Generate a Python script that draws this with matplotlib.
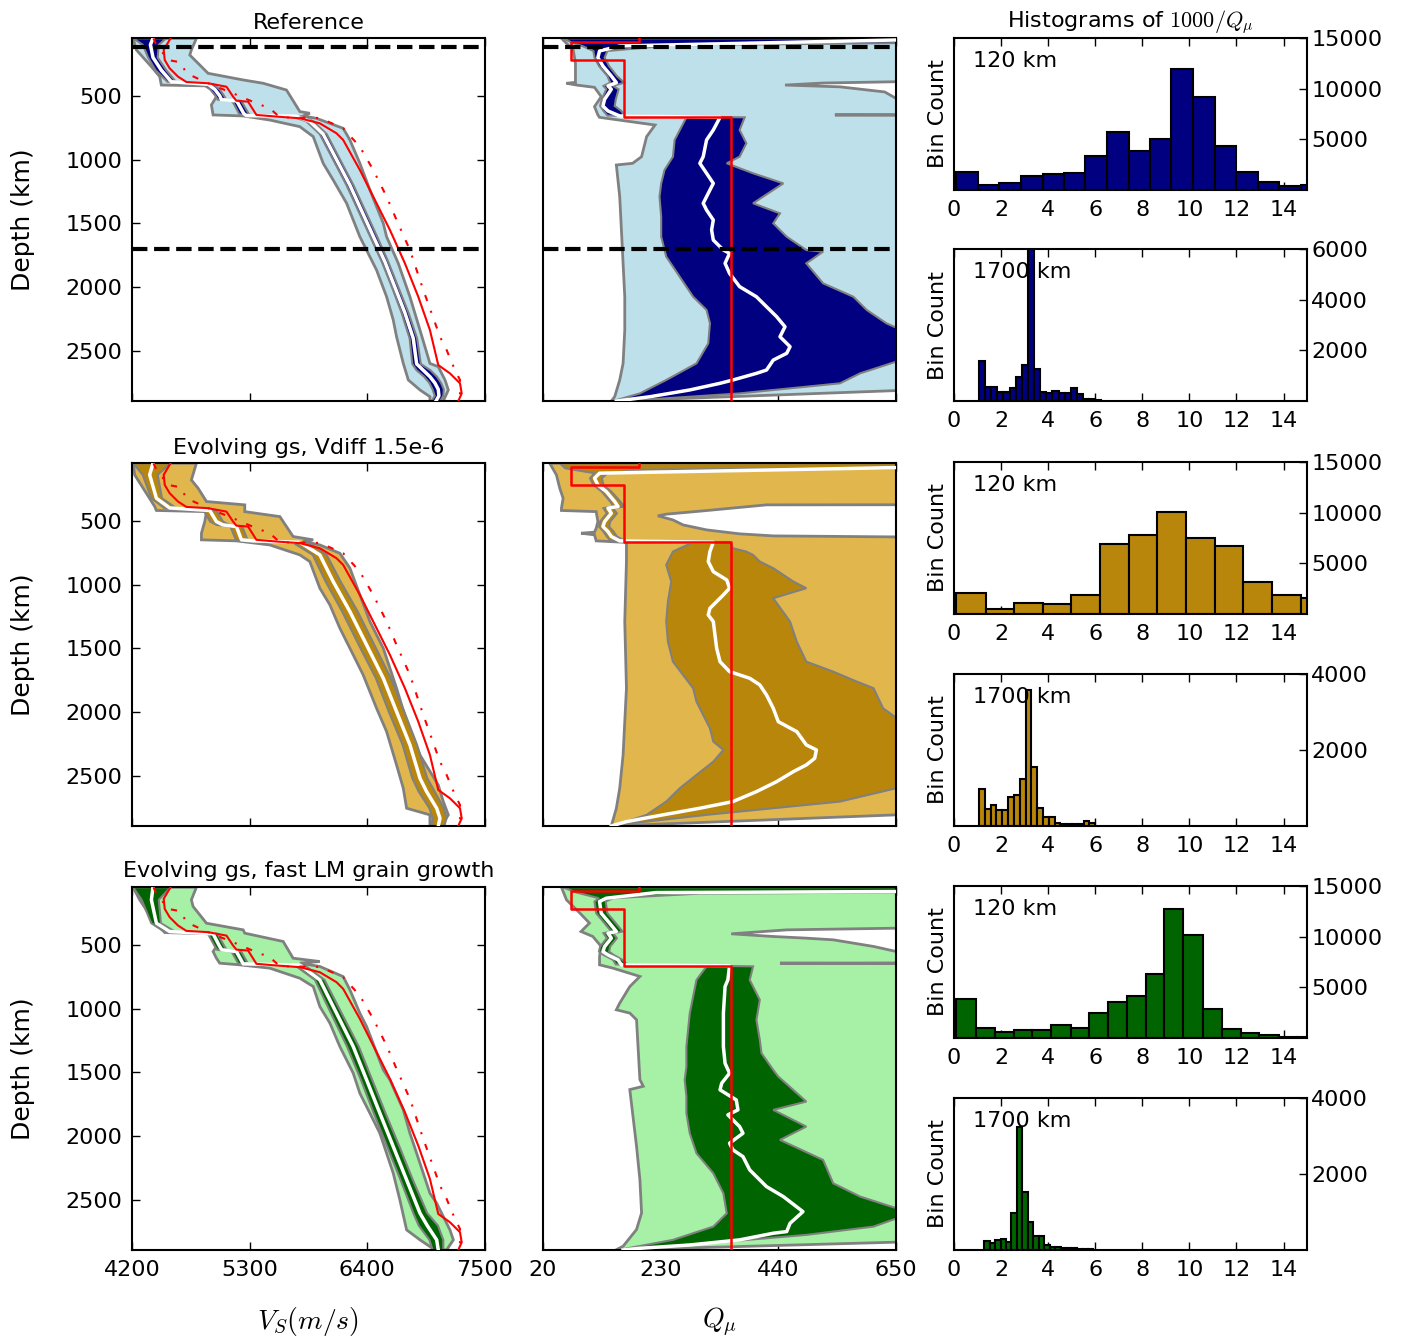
import numpy as np
import matplotlib
matplotlib.use("Agg")
import matplotlib.pyplot as plt

plt.rcParams.update({
    "font.family": ["DejaVu Sans"],
    "font.size": 16,
    "mathtext.fontset": "cm",
    "axes.linewidth": 1.5,
})

# ---------------- colours ----------------
LIGHT = ["#BDE0EB", "#E1B74D", "#A6F1A6"]
DARK = ["#000080", "#B8860B", "#006400"]
TITLES = ["Reference", "Evolving gs, Vdiff 1.5e-6", "Evolving gs, fast LM grain growth"]

# ---------------- observed reference models (red) ----------------
REF_VS_D = [50, 141, 220, 285, 350, 392, 402, 429, 507, 539, 546, 650, 663, 676, 716, 794, 846,
            1081, 1290, 1551, 1812, 2074, 2335, 2609, 2674, 2752, 2831, 2891]
REF_VS = [4560, 4496, 4506, 4552, 4630, 4708, 4911, 5083, 5145, 5176, 5285, 5363, 5550, 5769, 5956,
          6112, 6174, 6330, 6455, 6611, 6751, 6876, 6985, 7063, 7172, 7266, 7282, 7250]
REF2_VS_D = [50, 89, 220, 238, 324, 402, 481, 559, 598, 669, 674, 755, 899, 1081, 1290, 1473, 1708,
             2021, 2387, 2491, 2648, 2726, 2883]
REF2_VS = [4400, 4421, 4537, 4655, 4708, 4911, 5145, 5363, 5488, 5582, 5956, 6174, 6330, 6455, 6580,
           6673, 6798, 6923, 7079, 7141, 7219, 7266, 7266]
QL6_D = [0, 80, 80, 220, 220, 670, 670, 2891]
QL6_Q = [191, 191, 70, 70, 165, 165, 355, 355]

# ---------------- Vs, row 1 (Reference) ----------------
VS1_OLO_D = [50, 141, 272, 350, 416, 423, 507, 572, 650, 658, 690, 742, 820, 1029, 1160, 1342, 1604,
             1865, 2074, 2256, 2387, 2596, 2726, 2804, 2857, 2891]
VS1_OLO = [4209, 4241, 4381, 4459, 4474, 4927, 4989, 4942, 4958, 5239, 5488, 5769, 5894, 5987, 6081,
           6206, 6330, 6486, 6580, 6642, 6673, 6736, 6783, 6892, 6985, 6985]
VS1_OHI_D = [50, 141, 181, 246, 324, 376, 402, 455, 624, 637, 658, 677, 755, 846, 1029, 1238, 1499,
             1604, 1812, 2074, 2335, 2596, 2622, 2726, 2804, 2891]
VS1_OHI = [4802, 4755, 4740, 4818, 4911, 5239, 5426, 5644, 5769, 5862, 5800, 5925, 6174, 6237, 6330,
           6424, 6549, 6580, 6689, 6798, 6892, 6985, 7063, 7126, 7157, 7110]
VS1_D = [50, 100, 200, 300, 390, 410, 450, 500, 530, 540, 560, 640, 655, 660, 700, 800, 1000, 1200,
         1400, 1600, 1800, 2000, 2200, 2400, 2600, 2650, 2700, 2750, 2800, 2850, 2891]
VS1_MED = [4396, 4372, 4396, 4474, 4568, 4911, 4974, 5020, 5036, 5176, 5192, 5245, 5270, 5738, 5862,
           5987, 6112, 6237, 6346, 6455, 6564, 6658, 6751, 6829, 6861, 6923, 6985, 7032, 7063, 7069, 7041]
VS1_ILO = [4210, 4300, 4350, 4420, 4530, 4860, 4930, 4980, 5000, 5130, 5150, 5200, 5230, 5690, 5830,
           5955, 6080, 6205, 6315, 6425, 6535, 6630, 6720, 6795, 6820, 6860, 6930, 6980, 7010, 7030, 7000]
VS1_IHI = [4520, 4450, 4440, 4520, 4610, 4960, 5020, 5060, 5080, 5220, 5235, 5290, 5310, 5790, 5895,
           6020, 6145, 6270, 6380, 6490, 6595, 6690, 6785, 6865, 6900, 6990, 7050, 7090, 7115, 7110, 7080]

# ---------------- Vs, row 2 ----------------
VS2_OLO_D = [50, 141, 389, 420, 429, 507, 598, 650, 658, 690, 768, 820, 1029, 1160, 1342, 1551, 1708,
             1969, 2152, 2413, 2596, 2752, 2804, 2891]
VS2_OLO = [4209, 4225, 4412, 4428, 4896, 4880, 4849, 4849, 5176, 5488, 5769, 5862, 5956, 6050, 6143,
           6268, 6361, 6486, 6580, 6673, 6736, 6767, 6985, 6985]
VS2_OHI_D = [50, 181, 246, 350, 376, 429, 468, 624, 650, 662, 690, 755, 872, 1081, 1290, 1499, 1812,
             2074, 2335, 2570, 2700, 2804, 2891]
VS2_OHI = [4802, 4755, 4818, 4896, 5254, 5254, 5582, 5706, 5894, 5800, 5956, 6143, 6237, 6330, 6424,
           6549, 6673, 6767, 6892, 7063, 7110, 7157, 7094]
VS2_D = [50, 141, 324, 400, 420, 507, 533, 546, 650, 658, 669, 768, 977, 1212, 1473, 1734, 1995, 2256,
         2517, 2622, 2752, 2831, 2891]
VS2_MED = [4396, 4365, 4428, 4552, 4927, 4989, 5051, 5176, 5223, 5332, 5769, 5956, 6081, 6237, 6393,
           6549, 6673, 6798, 6892, 6954, 7048, 7079, 7063]
VS2_ILO = [4210, 4300, 4380, 4500, 4870, 4930, 4990, 5120, 5170, 5280, 5700, 5890, 6010, 6165, 6320,
           6480, 6600, 6730, 6820, 6880, 6980, 7010, 7000]
VS2_IHI = [4560, 4440, 4480, 4610, 4990, 5050, 5110, 5230, 5280, 5390, 5840, 6020, 6150, 6310, 6465,
           6620, 6745, 6865, 6960, 7030, 7115, 7140, 7120]

# ---------------- Vs, row 3 ----------------
VS3_OLO_D = [50, 149, 306, 405, 415, 515, 554, 606, 645, 658, 684, 763, 828, 985, 1115, 1298, 1507,
             1664, 1820, 1977, 2134, 2290, 2499, 2734, 2812, 2891]
VS3_OLO = [4209, 4272, 4396, 4506, 4927, 4989, 4958, 4989, 5020, 5207, 5488, 5769, 5894, 5956, 6050,
           6143, 6268, 6330, 6424, 6517, 6580, 6642, 6704, 6767, 6892, 7032]
VS3_OHI_D = [50, 149, 201, 332, 384, 410, 475, 606, 632, 645, 671, 750, 854, 1037, 1141, 1481, 1559,
             1794, 1977, 2134, 2447, 2525, 2734, 2812, 2891]
VS3_OHI = [4802, 4755, 4771, 4896, 5239, 5254, 5613, 5706, 5956, 5769, 5956, 6174, 6237, 6330, 6393,
           6549, 6611, 6736, 6798, 6861, 6985, 7048, 7172, 7204, 7141]
VS3_D = [50, 149, 332, 397, 415, 515, 540, 554, 650, 660, 776, 1037, 1298, 1559, 1820, 2081, 2342,
         2603, 2700, 2812, 2891]
VS3_MED = [4396, 4381, 4428, 4552, 4958, 5020, 5040, 5176, 5239, 5769, 5956, 6112, 6268, 6393, 6517,
           6642, 6767, 6892, 6960, 7048, 7063]
VS3_ILO = [4210, 4290, 4380, 4500, 4910, 4975, 4995, 5130, 5195, 5720, 5910, 6060, 6210, 6340, 6460,
           6585, 6710, 6830, 6880, 6980, 7010]
VS3_IHI = [4560, 4450, 4470, 4600, 5000, 5065, 5085, 5220, 5285, 5810, 6000, 6160, 6320, 6445, 6570,
           6700, 6825, 6960, 7060, 7110, 7110]

# ---------------- Q, row 1 ----------------
Q1_OLO_D = [50, 141, 246, 395, 402, 416, 434, 507, 585, 650, 669, 729, 820, 977, 1029, 1042, 1290,
            1551, 1812, 2074, 2335, 2596, 2726, 2857, 2891]
Q1_OLO = [53, 74, 78, 78, 62, 80, 112, 124, 112, 118, 121, 220, 205, 196, 180, 151, 157, 160, 163,
          166, 166, 163, 157, 148, 142]
Q1_OHI_D = [50, 385, 390, 400, 416, 430, 450, 470, 520, 528, 645, 650, 656, 2800, 2809, 2891]
Q1_OHI = [1000, 1000, 650, 520, 452, 550, 590, 630, 650, 1000, 1000, 541, 1000, 1000, 650, 142]
Q1_ILO_D = [50, 80, 110, 149, 201, 267, 345, 397, 423, 449, 528, 580, 619, 655, 669, 846, 977, 1081,
            1186, 1290, 1447, 1604, 1760, 1917, 2074, 2178, 2282, 2439, 2596, 2726, 2831, 2891]
Q1_ILO = [56, 70, 90, 110, 112, 120, 135, 140, 128, 133, 125, 122, 128, 135, 276, 255, 252, 237, 231,
          228, 231, 231, 240, 264, 288, 312, 318, 315, 294, 240, 193, 145]
Q1_IHI_D = [50, 85, 105, 149, 201, 267, 345, 397, 423, 449, 528, 580, 619, 655, 669, 768, 872, 977,
            1029, 1107, 1186, 1342, 1421, 1499, 1604, 1708, 1721, 1812, 1969, 2074, 2178, 2282, 2335,
            2491, 2540, 2674, 2752, 2831, 2883, 2891]
Q1_IHI = [1000, 700, 250, 135, 130, 138, 152, 165, 145, 155, 150, 148, 160, 165, 380, 371, 383, 371,
          348, 395, 449, 395, 443, 431, 455, 490, 520, 490, 520, 574, 598, 633, 660, 680, 680, 586, 550,
          371, 193, 150]
Q1_MED_D = [50, 63, 110, 149, 201, 267, 345, 397, 423, 449, 528, 580, 619, 658, 669, 768, 846, 977,
            1029, 1107, 1186, 1238, 1342, 1395, 1473, 1551, 1630, 1708, 1734, 1812, 1891, 1995, 2074,
            2152, 2230, 2309, 2387, 2465, 2517, 2570, 2648, 2674, 2726, 2752, 2804, 2857, 2891]
Q1_MED = [1000, 650, 157, 121, 118, 127, 142, 151, 136, 142, 130, 127, 136, 157, 336, 324, 312, 306,
          300, 312, 324, 318, 306, 312, 324, 321, 324, 342, 353, 345, 353, 371, 401, 419, 437, 452, 443,
          461, 455, 431, 419, 401, 359, 336, 282, 211, 151]

# ---------------- Q, row 2 ----------------
Q2_OLO_D = [50, 141, 246, 324, 402, 420, 429, 507, 559, 590, 598, 611, 658, 670, 820, 1290, 1812,
            2074, 2335, 2596, 2752, 2891]
Q2_OLO = [32, 44, 50, 56, 53, 53, 115, 118, 115, 112, 88, 112, 115, 169, 169, 166, 169, 166, 163,
          157, 151, 142]
Q2_OHI_D = [50, 374, 376, 423, 449, 462, 494, 533, 572, 603, 619, 627, 635, 2795, 2804, 2891]
Q2_OHI = [1000, 1000, 419, 306, 240, 225, 252, 270, 312, 371, 431, 650, 1000, 1000, 650, 142]
Q2_ILO_D = [50, 90, 128, 167, 220, 272, 350, 389, 402, 442, 507, 546, 585, 624, 655, 669, 742, 846,
            977, 1133, 1290, 1447, 1604, 1708, 1812, 1917, 2022, 2126, 2230, 2295, 2387, 2491, 2596,
            2700, 2804, 2891]
Q2_ILO = [50, 60, 112, 104, 110, 125, 140, 146, 128, 134, 122, 120, 128, 134, 140, 288, 252, 240, 249,
          243, 240, 243, 252, 270, 288, 294, 306, 318, 324, 342, 324, 294, 264, 240, 205, 145]
Q2_IHI_D = [50, 80, 100, 128, 167, 220, 272, 350, 389, 402, 442, 507, 546, 585, 624, 655, 669, 716,
            742, 768, 820, 872, 977, 1029, 1107, 1290, 1447, 1604, 1682, 1760, 1812, 1969, 2074, 2200,
            2560, 2596, 2700, 2752, 2804, 2883, 2891]
Q2_IHI = [1000, 1000, 200, 135, 125, 128, 142, 158, 165, 145, 152, 140, 138, 146, 152, 165, 353, 359,
          383, 395, 407, 431, 467, 490, 431, 461, 473, 490, 538, 580, 610, 627, 660, 700, 700, 650, 550,
          431, 312, 151, 145]
Q2_MED_D = [50, 84, 128, 167, 220, 272, 350, 389, 402, 442, 507, 546, 585, 624, 658, 669, 742, 820,
            899, 964, 1029, 1081, 1186, 1238, 1290, 1395, 1499, 1604, 1682, 1734, 1786, 1865, 1969,
            2074, 2152, 2256, 2295, 2361, 2413, 2465, 2544, 2622, 2700, 2752, 2804, 2857, 2891]
Q2_MED = [1000, 650, 121, 112, 118, 133, 148, 154, 136, 142, 130, 127, 136, 142, 157, 324, 318, 315,
          324, 348, 353, 342, 318, 315, 324, 327, 330, 336, 353, 389, 407, 419, 431, 440, 473, 490, 508,
          505, 490, 467, 437, 401, 359, 300, 234, 169, 142]

# ---------------- Q, row 3 ----------------
Q3_OLO_D = [50, 149, 253, 331, 397, 436, 514, 592, 658, 684, 749, 828, 958, 1010, 1036, 1088, 1557,
            1609, 1635, 2079, 2340, 2601, 2731, 2862, 2891]
Q3_OLO = [53, 62, 86, 103, 88, 109, 124, 121, 121, 145, 193, 175, 157, 151, 175, 187, 193, 199, 175,
          187, 193, 196, 187, 163, 150]
Q3_OHI_D = [50, 365, 371, 384, 415, 436, 449, 462, 514, 553, 560, 640, 645, 652, 2800, 2830, 2891]
Q3_OHI = [1000, 1000, 650, 455, 356, 431, 490, 538, 610, 650, 1000, 1000, 443, 1000, 1000, 650, 150]
Q3_ILO_D = [50, 92, 136, 162, 254, 332, 397, 410, 449, 515, 554, 580, 619, 655, 670, 776, 906, 1037,
            1168, 1298, 1455, 1559, 1690, 1820, 1977, 2134, 2290, 2447, 2604, 2708, 2812, 2891]
Q3_ILO = [55, 80, 120, 112, 115, 130, 142, 128, 134, 122, 120, 128, 145, 150, 312, 294, 288, 282, 279,
          276, 276, 273, 276, 276, 282, 294, 324, 342, 348, 324, 252, 155]
Q3_IHI_D = [50, 84, 100, 136, 162, 254, 332, 397, 410, 449, 515, 554, 580, 619, 655, 670, 776, 932,
            1089, 1246, 1350, 1481, 1533, 1729, 1794, 1925, 2029, 2186, 2369, 2473, 2577, 2630, 2708,
            2773, 2839, 2891]
Q3_IHI = [1000, 1000, 300, 145, 132, 135, 150, 162, 145, 152, 140, 138, 146, 162, 170, 395, 389, 407,
          401, 407, 410, 431, 440, 490, 431, 490, 443, 520, 538, 586, 660, 660, 610, 490, 312, 160]
Q3_MED_D = [50, 84, 92, 136, 162, 254, 332, 397, 410, 449, 515, 554, 580, 619, 658, 666, 776, 828,
            1037, 1298, 1429, 1507, 1585, 1637, 1716, 1794, 1833, 1925, 1977, 2055, 2107, 2160, 2264,
            2395, 2473, 2591, 2682, 2747, 2760, 2812, 2852, 2878, 2891]
Q3_MED = [1000, 650, 222, 133, 121, 124, 139, 151, 136, 142, 130, 127, 136, 154, 160, 353, 350, 345,
          342, 342, 345, 353, 339, 336, 365, 368, 350, 371, 377, 353, 359, 377, 389, 419, 449, 484, 461,
          455, 431, 371, 282, 193, 163]

# ---------------- histograms of 1000/Q ----------------
H1_120_EDGES = [0.07, 1.0, 1.92, 2.84, 3.76, 4.67, 5.58, 6.5, 7.42, 8.33, 9.24, 10.16, 11.08, 11.99,
                12.9, 13.81, 14.73, 15.65]
H1_120_COUNTS = [1810, 500, 720, 1380, 1610, 1650, 3400, 5770, 3860, 5080, 11940, 9230, 4350, 1750,
                 790, 360, 460]
H1_1700_EDGES = [1.06, 1.32, 1.58, 1.84, 2.10, 2.36, 2.62, 2.88, 3.14, 3.40, 3.66, 3.92, 4.18, 4.44,
                 4.70, 4.96, 5.22, 5.48, 5.74, 6.00, 6.26]
H1_1700_COUNTS = [1575, 550, 550, 355, 355, 525, 945, 1430, 6200, 1270, 355, 315, 405, 330, 330, 510,
                  290, 90, 80, 50]
H2_120_EDGES = [0.07, 1.35, 2.55, 3.77, 4.97, 6.2, 7.42, 8.64, 9.86, 11.08, 12.3, 13.52, 14.73, 15.95]
H2_120_COUNTS = [2050, 460, 1120, 1025, 1915, 6870, 7830, 10040, 7500, 6740, 3200, 1880, 1620]
H2_1700_EDGES = [1.06, 1.31, 1.55, 1.80, 2.05, 2.30, 2.54, 2.79, 3.04, 3.28, 3.53, 3.78, 4.02, 4.27,
                 4.52, 4.77, 5.01, 5.26, 5.51, 5.75, 6.00]
H2_1700_COUNTS = [970, 460, 560, 420, 420, 775, 825, 1230, 3570, 1540, 480, 240, 240, 70, 60, 60, 60,
                  60, 130, 90]
H3_120_EDGES = [0.07, 0.92, 1.73, 2.53, 3.33, 4.12, 4.95, 5.72, 6.53, 7.34, 8.15, 8.94, 9.75, 10.56,
                11.37, 12.18, 12.98, 13.79, 14.57, 15.38]
H3_120_COUNTS = [3860, 960, 590, 820, 760, 1250, 990, 2510, 3590, 4190, 6330, 12690, 10120, 2840, 920,
                 530, 260, 100, 70]
H3_1700_EDGES = [1.28, 1.51, 1.74, 1.98, 2.21, 2.44, 2.67, 2.90, 3.14, 3.37, 3.60, 3.83, 4.06, 4.30,
                 4.53, 4.76, 4.99, 5.22, 5.46, 5.69, 5.92]
H3_1700_COUNTS = [240, 180, 265, 285, 220, 975, 3230, 1520, 725, 355, 355, 135, 70, 90, 60, 45, 45, 35,
                  20, 20]

VS_TICKS = [4200, 5300, 6400, 7500]
Q_TICKS = [20, 230, 440, 650]
DEPTH_TICKS = [500, 1000, 1500, 2000, 2500]
HIST_TICKS = [0, 2, 4, 6, 8, 10, 12, 14]
H_UP_YTICKS = [5000, 10000, 15000]
H_LOW_YTICKS = [[2000, 4000, 6000], [2000, 4000], [2000, 4000]]
H_LOW_YMAX = [6000, 4000, 4000]

ROWS = [
    dict(vs=(VS1_OLO_D, VS1_OLO, VS1_OHI_D, VS1_OHI, VS1_D, VS1_MED, VS1_ILO, VS1_IHI),
         q=(Q1_OLO_D, Q1_OLO, Q1_OHI_D, Q1_OHI, Q1_ILO_D, Q1_ILO, Q1_IHI_D, Q1_IHI, Q1_MED_D, Q1_MED),
         h=(H1_120_EDGES, H1_120_COUNTS, H1_1700_EDGES, H1_1700_COUNTS)),
    dict(vs=(VS2_OLO_D, VS2_OLO, VS2_OHI_D, VS2_OHI, VS2_D, VS2_MED, VS2_ILO, VS2_IHI),
         q=(Q2_OLO_D, Q2_OLO, Q2_OHI_D, Q2_OHI, Q2_ILO_D, Q2_ILO, Q2_IHI_D, Q2_IHI, Q2_MED_D, Q2_MED),
         h=(H2_120_EDGES, H2_120_COUNTS, H2_1700_EDGES, H2_1700_COUNTS)),
    dict(vs=(VS3_OLO_D, VS3_OLO, VS3_OHI_D, VS3_OHI, VS3_D, VS3_MED, VS3_ILO, VS3_IHI),
         q=(Q3_OLO_D, Q3_OLO, Q3_OHI_D, Q3_OHI, Q3_ILO_D, Q3_ILO, Q3_IHI_D, Q3_IHI, Q3_MED_D, Q3_MED),
         h=(H3_120_EDGES, H3_120_COUNTS, H3_1700_EDGES, H3_1700_COUNTS)),
]


def band(ax, d_lo, v_lo, d_hi, v_hi, color, lw=2.0):
    x = np.concatenate([np.asarray(v_lo, float), np.asarray(v_hi, float)[::-1]])
    y = np.concatenate([np.asarray(d_lo, float), np.asarray(d_hi, float)[::-1]])
    ax.fill(x, y, facecolor=color, edgecolor="gray", linewidth=lw, zorder=2)


def style(ax):
    ax.tick_params(direction="in", top=True, right=True, length=6, width=1, labelsize=16, pad=7)


fig = plt.figure(figsize=(14.03, 13.40), dpi=100)
W = 0.2516
ROW_B = [0.7007, 0.3836, 0.0672]
ROW_H = 0.2707
HUP_B = [0.8582, 0.5418, 0.2254]
HH = 0.1134

for r, row in enumerate(ROWS):
    # ---- Vs panel ----
    axv = fig.add_axes([0.0941, ROW_B[r], W, ROW_H])
    olo_d, olo, ohi_d, ohi, dgrid, med, ilo, ihi = row["vs"]
    band(axv, olo_d, olo, ohi_d, ohi, LIGHT[r])
    band(axv, dgrid, ilo, dgrid, ihi, DARK[r], lw=1.5)
    axv.plot(med, dgrid, color="white", lw=2.5, zorder=3)
    axv.plot(REF_VS, REF_VS_D, color="red", lw=1.5, zorder=4)
    axv.plot(REF2_VS, REF2_VS_D, color="red", lw=1.5, dashes=(3, 5, 1, 5), zorder=4)
    axv.set_xlim(4200, 7500)
    axv.set_ylim(2891, 50)
    axv.set_xticks(VS_TICKS)
    axv.set_yticks(DEPTH_TICKS)
    style(axv)
    axv.set_ylabel("Depth (km)", fontsize=18, labelpad=22)
    axv.set_title(TITLES[r], fontsize=16, pad=7)
    if r < 2:
        axv.set_xticklabels([])

    # ---- Q panel ----
    axq = fig.add_axes([0.3870, ROW_B[r], W, ROW_H])
    qolo_d, qolo, qohi_d, qohi, qilo_d, qilo, qihi_d, qihi, qmed_d, qmed = row["q"]
    band(axq, qolo_d, qolo, qohi_d, qohi, LIGHT[r])
    band(axq, qilo_d, qilo, qihi_d, qihi, DARK[r], lw=1.5)
    axq.plot(qmed, qmed_d, color="white", lw=2.5, zorder=3)
    axq.plot(QL6_Q, QL6_D, color="red", lw=1.8, zorder=4)
    axq.set_xlim(20, 650)
    axq.set_ylim(2891, 50)
    axq.set_xticks(Q_TICKS)
    axq.set_yticks([])
    style(axq)
    if r < 2:
        axq.set_xticklabels([])

    if r == 0:
        for ax in (axv, axq):
            ax.axhline(120, color="black", lw=3, ls="--", zorder=5)
            ax.axhline(1700, color="black", lw=3, ls="--", zorder=5)

    # ---- histograms ----
    e1, c1, e2, c2 = row["h"]
    axh1 = fig.add_axes([0.6800, HUP_B[r], W, HH])
    axh2 = fig.add_axes([0.6800, ROW_B[r], W, HH])
    for ax, e, c, ymax, yt, lab in ((axh1, e1, c1, 15000, H_UP_YTICKS, "120 km"),
                                    (axh2, e2, c2, H_LOW_YMAX[r], H_LOW_YTICKS[r], "1700 km")):
        e = np.asarray(e, float)
        ax.bar(e[:-1], c, width=np.diff(e), align="edge", color=DARK[r],
               edgecolor="black", linewidth=1.5, zorder=2)
        ax.set_xlim(0, 15)
        ax.set_ylim(0, ymax)
        ax.set_xticks(HIST_TICKS)
        ax.set_yticks(yt)
        ax.yaxis.tick_right()
        ax.tick_params(direction="in", top=True, bottom=True, left=False, right=True,
                       length=6, width=1, labelsize=16)
        ax.tick_params(axis="x", pad=7)
        ax.tick_params(axis="y", pad=3)
        ax.set_ylabel("Bin Count", fontsize=16, labelpad=4)
        ax.text(0.054, 0.85, lab, transform=ax.transAxes, fontsize=16, va="center", ha="left",
                zorder=5)
    if r == 0:
        axh1.set_title("Histograms of $1000/Q_\\mu$", fontsize=16, pad=8)

fig.text(308.5 / 1403, 1 - 1322 / 1340, "$V_S(m/s)$", fontsize=20, ha="center", va="center")
fig.text(719.5 / 1403, 1 - 1322 / 1340, "$Q_\\mu$", fontsize=20, ha="center", va="center")

fig.savefig("out.png", dpi=100)
